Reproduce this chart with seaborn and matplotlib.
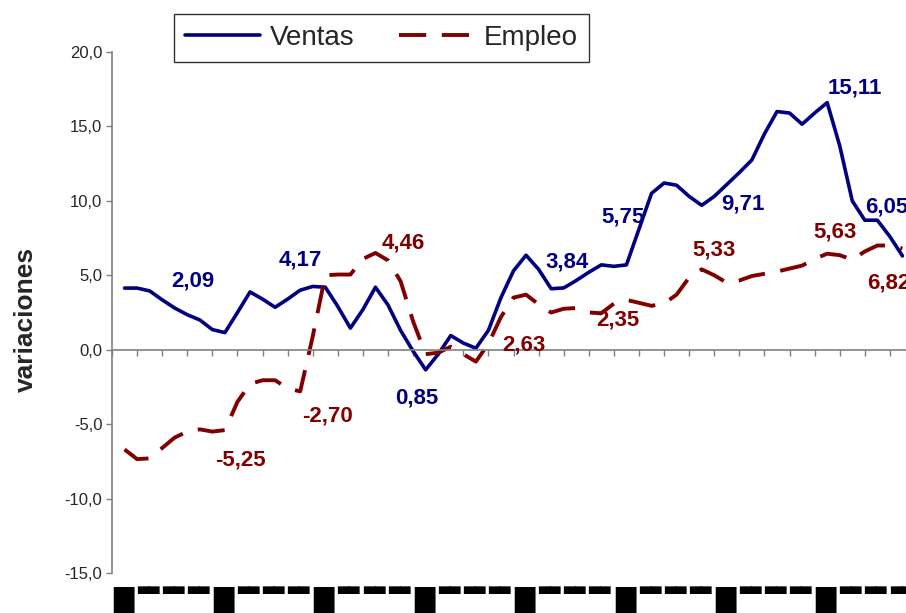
import numpy as np
import pandas as pd
import matplotlib.pyplot as plt
import matplotlib.transforms as mtransforms
from matplotlib.ticker import FuncFormatter
import seaborn as sns

# curvas leidas cada medio trimestre (32 trimestres)
pos = np.arange(0.5, 32, 0.5)

ventas = [4.14, 4.14, 3.95, 3.35, 2.8, 2.35, 2.0, 1.35, 1.15, 2.5,
          3.88, 3.4, 2.85, 3.4, 4.0, 4.25, 4.2, 2.9, 1.45, 2.7,
          4.2, 3.0, 1.3, -0.1, -1.35, -0.3, 0.95, 0.45, 0.1, 1.3,
          3.5, 5.3, 6.35, 5.4, 4.1, 4.15, 4.65, 5.2, 5.7, 5.6,
          5.7, 8.1, 10.5, 11.2, 11.05, 10.3, 9.7, 10.3, 11.1, 11.9,
          12.75, 14.5, 16.0, 15.9, 15.15, 15.9, 16.6, 13.7, 10.0, 8.7,
          8.7, 7.6, 6.3]

empleo = [-6.7, -7.35, -7.3, -6.6, -5.9, -5.5, -5.35, -5.5, -5.4, -3.5,
          -2.3, -2.05, -2.05, -2.6, -2.8, 0.9, 5.0, 5.05, 5.05, 6.1,
          6.5, 6.0, 4.6, 1.9, -0.3, -0.2, 0.2, -0.3, -0.8, 0.4,
          2.2, 3.5, 3.7, 3.05, 2.5, 2.75, 2.8, 2.5, 2.45, 3.1,
          3.35, 3.15, 2.95, 3.1, 3.7, 4.85, 5.4, 5.0, 4.5, 4.65,
          4.95, 5.1, 5.25, 5.45, 5.65, 6.1, 6.45, 6.35, 6.05, 6.6,
          7.0, 7.0, 6.8]

# medias anuales rotuladas
ventas_med = ['2,09', '4,17', '0,85', '3,84', '5,75', '9,71', '15,11', '6,05']
empleo_med = ['-5,25', '-2,70', '4,46', '2,63', '2,35', '5,33', '5,63', '6,82']

# sitio de cada rotulo (trimestre, valor)
ventas_xy = [(3.23, 4.64), (7.49, 6.05), (12.15, -3.22), (18.13, 5.91),
             (20.36, 8.93), (25.14, 9.81), (29.6, 17.6), (30.86, 9.61)]
empleo_xy = [(5.10, -7.39), (8.57, -4.43), (11.59, 7.19), (16.41, 0.34),
             (20.16, 2.02), (23.98, 6.72), (28.8, 7.93), (30.96, 4.5)]

# etiquetas del eje x (salen como bloques en el original)
etiquetas_x = ['█', '▀▀', '▀▀', '▀▀'] * 8

azul = '#000080'
rojo = '#800000'

df = pd.DataFrame({'pos': pos, 'Ventas': ventas, 'Empleo': empleo})
df = df.melt(id_vars='pos', var_name='serie', value_name='valor')

sns.set_theme(style='white')
plt.rcParams['font.family'] = ['Liberation Sans', 'DejaVu Sans']

W, H = 906, 613
fig = plt.figure(figsize=(W / 100, H / 100), dpi=100)
ax = fig.add_axes([112 / W, (H - 573) / H, (915 - 112) / W, 521 / H])

sns.lineplot(data=df, x='pos', y='valor', hue='serie', style='serie',
             palette={'Ventas': azul, 'Empleo': rojo},
             dashes={'Ventas': '', 'Empleo': (7, 4)},
             linewidth=2.6, ax=ax, legend=False)
ax.lines[0].set_linewidth(2.6)
ax.lines[1].set_linewidth(2.8)
for ln in ax.lines:
    ln.set_solid_joinstyle('round')
    ln.set_dash_joinstyle('round')

ax.set_xlim(0, 32)
ax.set_ylim(-15, 20)
ax.set_yticks(np.arange(-15, 21, 5))
ax.yaxis.set_major_formatter(FuncFormatter(lambda v, p: f'{v:.1f}'.replace('.', ',')))
ax.set_xticks(np.arange(0, 33))
ax.set_xticklabels([])
ax.set_xlabel('')
ax.set_ylabel('variaciones', fontsize=19, fontweight='bold')
ax.yaxis.set_label_coords(-0.092, 0.486)

for s in ['top', 'right']:
    ax.spines[s].set_visible(False)
ax.spines['bottom'].set_position(('data', 0))
for s in ['left', 'bottom']:
    ax.spines[s].set_color('#808080')
    ax.spines[s].set_linewidth(1.2)
ax.tick_params(axis='x', direction='out', length=4.5, width=1, color='#808080', bottom=True)
ax.tick_params(axis='y', direction='out', length=4, width=1, color='#808080', left=True,
               labelsize=12, pad=3)

for txt, (x, y) in zip(ventas_med, ventas_xy):
    ax.text(x, y, txt, color=azul, fontsize=16, fontweight='bold', ha='center', va='center')
for txt, (x, y) in zip(empleo_med, empleo_xy):
    ax.text(x, y, txt, color=rojo, fontsize=16, fontweight='bold', ha='center', va='center')

trans = mtransforms.blended_transform_factory(ax.transData, fig.transFigure)
for k, lab in enumerate(etiquetas_x):
    fs = 19 if lab == '█' else 10.5
    ax.text(k + 0.44, 1 - 586 / H, lab, transform=trans, ha='center', va='top',
            fontsize=fs, family='DejaVu Sans', color='black', clip_on=False)

handles = [plt.Line2D([], [], color=azul, lw=2.6),
           plt.Line2D([], [], color=rojo, lw=2.8, dashes=(7, 4))]
leg = ax.legend(handles, ['Ventas', 'Empleo'], ncol=2, loc='upper left',
                bbox_to_anchor=(174 / W, 1 - 14 / H), bbox_transform=fig.transFigure,
                fontsize=20, frameon=True, fancybox=False, borderaxespad=0,
                borderpad=0.4, handlelength=2.7, handletextpad=0.35, columnspacing=1.6)
leg.get_frame().set_edgecolor('black')
leg.get_frame().set_linewidth(1.0)

fig.savefig('out.png', dpi=100)
